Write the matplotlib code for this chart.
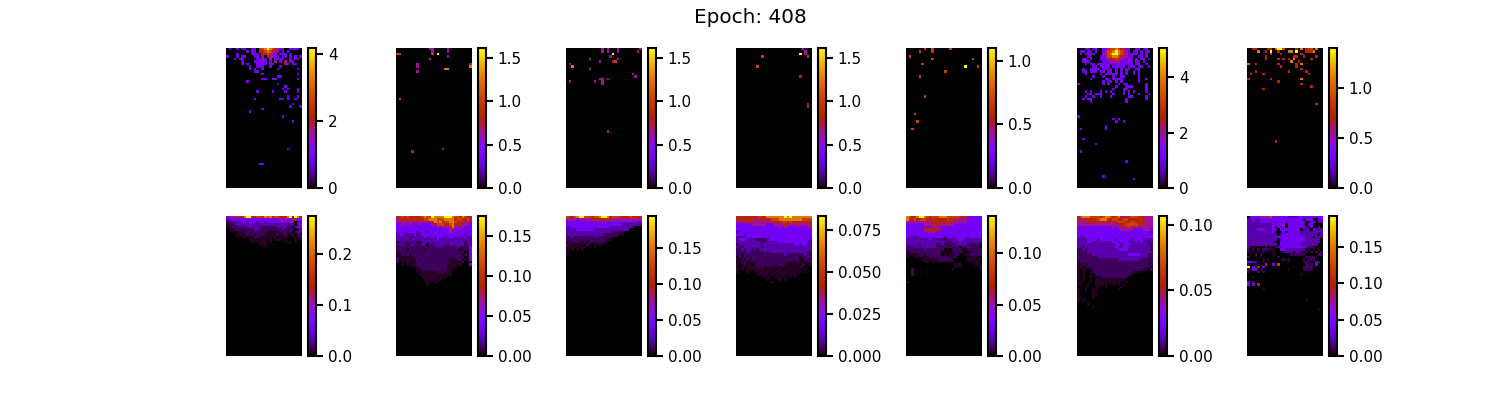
import numpy as np
import matplotlib
matplotlib.use("Agg")
import matplotlib.pyplot as plt

N_ROWS, N_COLS = 56, 30
TITLE = "Epoch: 408"

# colour level (fraction of each panel's maximum) used by the read-off cell codes
LEVELS = {'.': 0, '1': .025, '2': .06, '3': .12, '4': .205, '5': .40,
          '6': .52, '7': .63, '8': .78, '9': 1.0}

top_max = [4.18, 1.615, 1.615, 1.615, 1.10, 5.06, 1.40]
bot_max = [0.2745, 0.175, 0.194, 0.0833, 0.136, 0.1068, 0.192]

t1_rows = [
 ".4..4.44..44.6789876544..4444.",
 "........4.44.66787654.4.4.....",
 "....4.....444.567654.444.4....",
 "4...4.44...44.5.65544.44.4.4.4",
 "...4.44.....4444.5.4444..4.44.",
 "......4....44454.4.5.4.5.44...",
 "......4.4...4444.44....55.44..",
]
t1_cells = [(7,9,'4'),(7,12,'4'),(7,13,'4'),(7,14,'4'),(7,17,'4'),(7,21,'4'),(8,9,'4'),(8,11,'4'),
 (8,14,'4'),(8,20,'4'),(8,28,'4'),(9,11,'4'),(9,12,'4'),(10,14,'4'),(10,28,'4'),(11,20,'4'),(11,21,'4'),
 (12,14,'4'),(12,15,'4'),(12,18,'4'),(12,19,'4'),(12,28,'4'),(13,8,'4'),(14,20,'4'),(15,23,'4'),
 (16,22,'4'),(16,24,'4'),(17,23,'4'),(16,28,'4'),(17,12,'4'),(17,18,'4'),(17,28,'4'),(19,24,'4'),
 (19,28,'4'),(20,11,'4'),(20,21,'4'),(20,22,'4'),(20,24,'4'),(20,27,'4'),(22,26,'4'),(23,25,'4'),
 (23,29,'4'),(24,14,'4'),(25,9,'4'),(27,22,'4'),(29,26,'4'),(40,24,'4'),(46,13,'4'),(46,14,'4')]

t2_cells = [(0,13,'5'),(0,14,'5'),(1,14,'5'),(0,20,'5'),(1,20,'5'),(2,0,'7'),(2,1,'7'),(2,14,'7'),(2,16,'9'),
 (3,20,'5'),(4,13,'7'),(6,8,'5'),(7,8,'5'),(9,8,'5'),(6,29,'5'),(7,29,'8'),(8,19,'8'),(8,20,'8'),
 (20,1,'7'),(41,6,'5'),(40,18,'5')]
t3_cells = [(0,14,'5'),(1,14,'5'),(0,16,'5'),(1,16,'5'),(0,20,'5'),(1,20,'5'),(0,29,'5'),(1,28,'5'),
 (2,18,'9'),(3,17,'5'),(4,20,'5'),(4,9,'5'),(5,13,'5'),(5,18,'5'),(5,19,'7'),(6,1,'5'),(7,2,'8'),
 (8,9,'5'),(10,26,'5'),(11,27,'5'),(12,13,'5'),(12,14,'5'),(12,16,'5'),(13,1,'5'),(13,11,'5'),
 (13,14,'5'),(14,14,'5'),(33,16,'5')]
t4_cells = [(0,26,'5'),(1,27,'5'),(2,27,'5'),(2,25,'9'),(3,28,'7'),(3,10,'7'),(7,8,'7'),(11,25,'5'),
 (22,28,'5'),(23,28,'5')]
t5_cells = [(0,7,'7'),(0,10,'7'),(1,10,'7'),(1,5,'7'),(3,1,'7'),(0,17,'7'),(4,10,'7'),(4,26,'7'),(6,6,'7'),
 (7,23,'9'),(7,28,'7'),(9,15,'7'),(11,5,'7'),(19,7,'7'),(26,3,'7'),(29,4,'7'),(32,2,'7')]

t6_rows = [
 "...44.44..44677876544..44.44..",
 ".44.44.4..45778987654.44.4.44.",
 ".4.4444...56789987654444.4.4..",
 "....44...4457788765544..44.4..",
 "..44.4...4445667654454.4.44.4.",
 "..444.....444555544454.44.4...",
 "...4.44.44444444544444.44..4..",
 "......44.4444.44444.444.44..4.",
 "..4..4444.4444.4.4.44..44.....",
 "..44.444.44.44.4.4.4..4.4.....",
 "...4.....4.44444.4.4..4.4.....",
 "......4...4...4..44.....4.....",
 ".....4.....44.4444......4..4..",
 "..........4.44.4.4......4.....",
 "4.........4.4...4.44.......4..",
 "...............4...444.....4..",
 "..............4...44.......4..",
 "...4.4...4.4.4....4.4.4....4..",
 "....44.444....4...4.4...4...4.",
 "...4..4..4...4......44.....4..",
 "..4.44.............4.......4..",
 ".....4.............4..........",
]
t6_cells = [(27,0,'4'),(28,14,'4'),(28,16,'4'),(29,15,'4'),(29,18,'4'),(31,11,'4'),(32,11,'4'),(32,1,'4'),
 (36,2,'4'),(38,7,'4'),(41,1,'4'),(45,19,'4'),(51,10,'4'),(52,22,'4')]

t7_cells = [(0,2,'6'),(0,3,'6'),(0,8,'6'),(0,9,'6'),(0,11,'8'),(0,12,'9'),(0,13,'9'),(0,14,'7'),(0,19,'6'),
 (0,21,'8'),(0,23,'6'),(0,24,'6'),(0,25,'7'),(0,27,'8'),(1,4,'8'),(1,7,'6'),(1,9,'9'),(1,12,'6'),
 (1,16,'8'),(1,17,'8'),(1,19,'9'),(1,23,'6'),(1,24,'6'),(1,25,'6'),(1,26,'8'),(2,9,'6'),(2,13,'6'),
 (2,21,'6'),(3,7,'6'),(3,18,'6'),(3,19,'6'),(3,22,'6'),(3,27,'6'),(4,7,'6'),(4,12,'6'),(4,14,'6'),
 (4,16,'6'),(4,18,'8'),(4,25,'6'),(5,17,'8'),(5,20,'6'),(6,0,'8'),(6,3,'6'),(6,12,'6'),(6,19,'6'),
 (6,21,'8'),(7,13,'6'),(7,19,'6'),(8,21,'6'),(9,3,'6'),(9,16,'6'),(9,23,'6'),(10,1,'6'),(10,6,'6'),
 (10,24,'6'),(12,0,'6'),(12,9,'6'),(12,21,'8'),(13,12,'6'),(14,21,'6'),(15,25,'6'),(16,6,'6'),
 (22,27,'6'),(37,11,'6')]

# --- bottom row: rows
b1_rows = [
 "455566589966776878677666894985",
 "334444444444444444444545446544",
 "223333443444344344444454455.34",
 "122233333433333333333333333.34",
 "11222322333332222222333322.344",
 ".11222212223322222222232222.13",
 "..1.1112222222221111122212.233",
 "....11112121222111112112112.22",
 "....1.11111221111111.1111.1112",
 ".........1111111.1.111.1...1.1",
 "..........111111.1.....111.1..",
 ".............111..............",
 "...............1..............",
]
b2_rows = [
 "667676666678779888899987768766",
 "566666666667788877788886776675",
 "555555555555566878677887666565",
 "445545444544445577766786665554",
 "444444444444444454555685545444",
 "444444444444444444444564454444",
 "444344443444344444444544444444",
 "344333343344444444444444444344",
 "333333233334334344434443433433",
 "333332333333333343333333333333",
 "223223232.33333333333333333233",
 "233222322233.32333332333333233",
 "222222222222222233222222322224",
 "2222122222212222222222222.2214",
 "122222222222222222222222222.14",
 "1122212222222222222222222212.4",
 "111111122222222222222122222.14",
 "21111111212222222222211122.1.4",
 "2.1111112222222222222111112.1.",
 "..1.1111222222222222111111...4",
 "......111222222222221111......",
 "........112222222222111.......",
 "........11111111222111........",
 ".........1111111111111........",
 "..........1111111111..........",
 "...........1111111............",
 "............1..11.............",
 "............1.................",
]
b3_rows = [
 "766789977767789986777666676666",
 "555545555566666666555555555555",
 "444444444444444444444444444433",
 "444444444444444444444433333333",
 "334444444444444443333333333...",
 "3333444444433333333333333.....",
 "33333333333333333322222.......",
 "33333333333333322222211.......",
 "22322222222322222211..........",
 "222222222222222211............",
 "12222212.2222221..............",
 "2111111.21.1111...............",
 "11111111.1.1..................",
 "1.1.1.1.......................",
 "1.............................",
 "1.............................",
]
b4_rows = [
 "666666666766888888898988888888",
 "666666665666667778888888887777",
 "555566555555556666776766666666",
 "444444555555444555565555555556",
 "444444444444444445454444544455",
 "444444444444444444444444444444",
 "344444444444444444444444444444",
 "444344444444444444444444444444",
 "333344444444444444444444444444",
 "344433332222344444444444444443",
 "333333333322333344444444444433",
 "233333333333333333333334434433",
 "322333333323333333333333333333",
 "223233232333333333333333333333",
 "222232222223233333333333333322",
 "221222222222222222232222222322",
 "121222222222222222222222212232",
 "112121222222222222222222211222",
 "111211212222222222222111211122",
 "1.1211.12222222222211.111121.1",
 "1.1111112121121111211111111.1.",
 "1.1.11111111111111.1111111.1..",
 "1...1..11111111111111111111.1.",
 "........11111.1111111111......",
 "..........111..11111.1.1......",
 "............1...11.1..........",
 "..............1...............",
]
b5_rows = [
 "876689987677788877777666444444",
 "866766776666666676665555444444",
 "555555555566666666655555444444",
 "444444455566565565544444444444",
 "444444444455544444444444444444",
 "4444444666666544444444444444444",
 "444444445555444444444444444444",
 "444444444444444444444444444444",
 "433334444444444344344444344444",
 "333333333433332233334443333333",
 "3333333333333333223333333333333",
 "33333233333322322222333322222",
 "222332333333222222222.2232222",
 "222222232222222.1.2222.1222222",
 "12222222222222.11.12222.112222",
 "11111221222222.1.1122..1122222",
 "1..11111122222221112....1111",
 "......1111111222221.....111111",
 ".......11.111111111......1111",
 "...................111.....111",
 "...................1.1.......1",
 "..2...............1..........1",
 "..2...........................",
 "..2...........................",
 "..............................",
 "..............................",
 "1.............................",
]
b6_rows = [
 "678887777678876785665777665555",
 "665666667888667766776666666555",
 "555666666666566677766776665555",
 "555555555555555556677777665555",
 "444444444444445455567565555555",
 "444444444444444445555544445554",
 "444444444444444444444444444443",
 "444444444444444444444444444444",
 "433444444544444444444444444444",
 "333344443444444344444344443333",
 "333344333333334434443334343323",
 "333333333333333443444333333332",
 "332333333333333433443333333332",
 "223233333333333344443333333332",
 "222233333333333333333333333333",
 "222222333333333333334444433322",
 "222222223333333333333333333322",
 "222222222222222233333333322222",
 "122222222222222222222222222222",
 "112122222222222222222222222212",
 "12.122222222222222222222222211",
 "1.11.12222222222222222222211.2",
 "1.1..12222222222222222111.1...",
 "1.1..1.222222222222221........",
 "1.1..1.1112222222222..........",
 "1.1..1.111111111111...........",
 "11...1.1111111111..1..........",
 "11..1..11111.11.1.1...........",
 "...1...11..1.....1............",
 "1..1..11........1.............",
 "1.....1.......................",
 "1.....11......................",
 "11....1.......................",
 "1.1...........................",
 "1.1...........................",
 "....1.........................",
 "......1.......................",
]
b7_rows = [
 ".44445556744444433334444444444",
 "3343344444444444444444.444..44",
 "33333444444344444444444..44.33",
 "333333333344445.4444443.44....",
 "33333333334.444.44444443.4..3.",
 "333344433343.44444444.333.4333",
 "33333334334...4.44344333333333",
 "333333333333.344444443333333.3",
 "33333333333344444444444333.333",
 "333333333333.3444444444333333.",
 "33333333333..4444444443333333.",
 "333333333333.444444443333333..",
 "3.11.1.2.1.2334444444443222.1.",
 "2.1.2.22211..4433333333.2.1.1.",
 "2.1.1.2.1.1...2333.332.2.2.2.2",
 ".1.2.2....1......222222.....22",
 "2..1.1......2..........2222...",
 "......1.1.....2.2.....2.222...",
 "4433..1.........1.....222..33.",
 "2..2...5..4.7..........222.4..",
 "9.4.6.4...........1...2222....",
 "2.44.2..........1.....2222....",
 "2...2.2.......................",
 ".....................1........",
 "..1...........................",
 "..............................",
 "4.2...........................",
 "4.4.6.........................",
 "..............................",
 "......1.......................",
 "..............................",
 "..............................",
 "..............................",
 ".......................1......",
 "..............................",
 "..............................",
 "..............................",
 "............................1.",
]

top_panels = [(t1_rows, t1_cells), ([], t2_cells), ([], t3_cells), ([], t4_cells),
              ([], t5_cells), (t6_rows, t6_cells), ([], t7_cells)]
bot_panels = [(r, []) for r in (b1_rows, b2_rows, b3_rows, b4_rows, b5_rows, b6_rows, b7_rows)]


def to_grid(rows, cells, vmax):
    grid = np.zeros((N_ROWS, N_COLS))
    for i, row in enumerate(rows):
        for j, ch in enumerate(row[:N_COLS]):
            grid[i, j] = LEVELS[ch] * vmax
    for i, j, ch in cells:
        grid[i, j] = LEVELS[ch] * vmax
    return grid


W, H = 1500, 400
fig = plt.figure(figsize=(W / 100, H / 100), dpi=100)
fig.suptitle(TITLE, fontsize=14.4, x=0.5, y=0.98)

x_lefts = [226, 396, 566, 736, 906, 1077, 1247]
row_specs = [(48, top_panels, top_max), (216, bot_panels, bot_max)]
ax_w, ax_h = 75.3, 140
for y_top, panels, vmaxes in row_specs:
    for x0, (rows, cells), vmax in zip(x_lefts, panels, vmaxes):
        ax = fig.add_axes([x0 / W, 1 - (y_top + ax_h) / H, ax_w / W, ax_h / H])
        im = ax.imshow(to_grid(rows, cells, vmax), cmap="gnuplot", vmin=0, vmax=vmax,
                       interpolation="nearest", aspect="auto")
        ax.axis("off")
        cax = fig.add_axes([(x0 + 82) / W, 1 - (y_top + ax_h) / H, 8 / W, ax_h / H])
        cb = fig.colorbar(im, cax=cax)
        cb.outline.set_linewidth(1.5)
        cb.ax.tick_params(width=1.5, length=5, labelsize=11, pad=3.5)

fig.savefig("out.png", dpi=100)
